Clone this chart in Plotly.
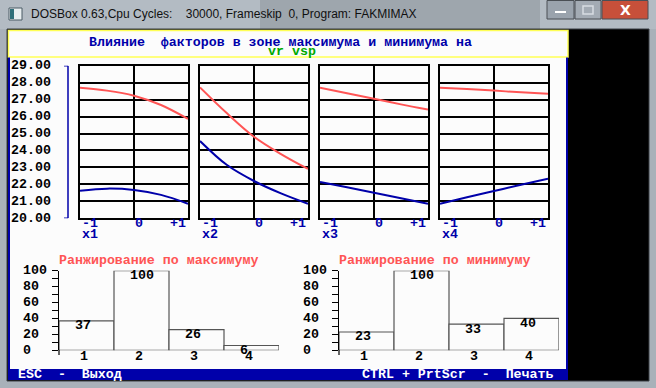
import plotly.graph_objects as go

W, H = 656, 388

# ---------------- data ----------------
factor_names = ["x1", "x2", "x3", "x4"]
x_levels = [-1, -0.5, 0, 0.5, 1]
x_tick_vals = [-1, 0, 1]
x_tick_text = ["-1", "0", "+1"]

max_x1 = [27.70, 27.53, 27.23, 26.68, 25.86]
min_x1 = [21.63, 21.75, 21.67, 21.38, 20.86]
max_x2 = [27.72, 26.19, 24.81, 23.79, 22.91]
min_x2 = [24.56, 23.14, 22.20, 21.47, 20.86]
max_x3 = [27.70, 27.37, 27.05, 26.72, 26.41]
min_x3 = [22.14, 21.83, 21.51, 21.18, 20.86]
max_x4 = [27.70, 27.62, 27.53, 27.43, 27.35]
min_x4 = [20.86, 21.24, 21.61, 21.98, 22.34]

y_tick_vals = [20, 21, 22, 23, 24, 25, 26, 27, 28, 29]
y_tick_text = ["20.00", "21.00", "22.00", "23.00", "24.00",
               "25.00", "26.00", "27.00", "28.00", "29.00"]

rank_cats = [1, 2, 3, 4]
rank_max = [37, 100, 26, 6]
rank_min = [23, 100, 33, 40]
rank_tick_vals = [0, 20, 40, 60, 80, 100]
rank_tick_text = ["0", "20", "40", "60", "80", "100"]

title_line1 = "Влияние\u00a0\u00a0факторов в зоне максимума и минимума на"
title_line2 = "vr vsp"
rank_title_max = "Ранжирование по максимуму"
rank_title_min = "Ранжирование по минимуму"
status_left = "ESC\u00a0\u00a0-\u00a0\u00a0Выход"
status_right = "CTRL + PrtScr\u00a0\u00a0-\u00a0\u00a0Печать"
window_title = "DOSBox 0.63,Cpu Cycles:\u00a0\u00a0\u00a0\u00a030000, Frameskip\u00a0\u00a00, Program: FAKMIMAX"

# ---------------- style ----------------
DOS_BLUE = "#0000aa"
DOS_RED = "#ff5555"
DOS_GREEN = "#00aa00"
DOS_YELLOW = "#ffff55"
MONO = "Liberation Mono, DejaVu Sans Mono, monospace"
FS = 13.3


def px(x):
    return x / W


def py(y):
    return 1 - y / H


fig = go.Figure()

series_max = [max_x1, max_x2, max_x3, max_x4]
series_min = [min_x1, min_x2, min_x3, min_x4]

layout_axes = {}
annotations = []
shapes = []


def ann(text, x, y, xref="paper", yref="paper", color="black", size=FS,
        xanchor="left", yanchor="middle", xshift=0, yshift=0, family=MONO, weight="bold"):
    annotations.append(dict(text=text, x=x, y=y, xref=xref, yref=yref,
                            xanchor=xanchor, yanchor=yanchor, xshift=xshift, yshift=yshift,
                            showarrow=False,
                            font=dict(family=family, size=size, color=color, weight=weight)))


# ---------------- window chrome ----------------
shapes.append(dict(type="rect", xref="paper", yref="paper", x0=0, x1=1, y0=py(29), y1=1,
                   fillcolor="#b3bbc3", line=dict(width=0), layer="below"))
shapes.append(dict(type="rect", xref="paper", yref="paper", x0=px(260), x1=px(540), y0=py(29), y1=1,
                   fillcolor="#8f979f", line=dict(width=0), layer="below", opacity=0.6))
shapes.append(dict(type="rect", xref="paper", yref="paper", x0=px(7), x1=px(649), y0=py(381), y1=py(29),
                   fillcolor="#000000", line=dict(color="#3a3f44", width=1), layer="below"))
shapes.append(dict(type="rect", xref="paper", yref="paper", x0=px(8), x1=px(568), y0=py(369), y1=py(30),
                   fillcolor="#fcfcfc", line=dict(width=0), layer="below"))
shapes.append(dict(type="rect", xref="paper", yref="paper", x0=px(8.5), x1=px(568), y0=py(57), y1=py(30.5),
                   fillcolor="rgba(0,0,0,0)", line=dict(color=DOS_YELLOW, width=1.5), layer="below"))
for xb in (9, 567):
    shapes.append(dict(type="line", xref="paper", yref="paper", x0=px(xb), x1=px(xb), y0=py(369), y1=py(57.5),
                       line=dict(color=DOS_BLUE, width=2), layer="below"))
shapes.append(dict(type="rect", xref="paper", yref="paper", x0=px(8), x1=px(568), y0=py(380), y1=py(369),
                   fillcolor=DOS_BLUE, line=dict(width=0), layer="below"))
shapes.append(dict(type="rect", xref="paper", yref="paper", x0=px(547), x1=px(574), y0=py(19), y1=py(0.5),
                   fillcolor="#9aa3ad", line=dict(color="#4a4f55", width=1), layer="below"))
shapes.append(dict(type="rect", xref="paper", yref="paper", x0=px(575), x1=px(601), y0=py(19), y1=py(0.5),
                   fillcolor="#a3abb4", line=dict(color="#4a4f55", width=1), layer="below"))
shapes.append(dict(type="rect", xref="paper", yref="paper", x0=px(602), x1=px(648), y0=py(19), y1=py(0.5),
                   fillcolor="#c7503a", line=dict(color="#4a4f55", width=1), layer="below"))
shapes.append(dict(type="rect", xref="paper", yref="paper", x0=px(555), x1=px(566), y0=py(13), y1=py(11),
                   fillcolor="#ffffff", line=dict(width=0), layer="above"))
shapes.append(dict(type="rect", xref="paper", yref="paper", x0=px(583), x1=px(593), y0=py(14), y1=py(6),
                   fillcolor="rgba(0,0,0,0)", line=dict(color="#d8dde2", width=1.5), layer="above"))
shapes.append(dict(type="rect", xref="paper", yref="paper", x0=px(9), x1=px(22), y0=py(20), y1=py(8),
                   fillcolor="#e8eef0", line=dict(color="#4a5a64", width=1), layer="above"))
shapes.append(dict(type="rect", xref="paper", yref="paper", x0=px(10), x1=px(14), y0=py(19), y1=py(9),
                   fillcolor="#2f6f7a", line=dict(width=0), layer="above"))
ann("X", px(625), py(10), color="#ffffff", size=14, xanchor="center",
    family="DejaVu Sans, sans-serif")
ann(window_title, px(29), py(14.5), color="#101010", size=12, weight="normal",
    family="Liberation Sans, Arial, sans-serif")

# ---------------- header ----------------
ann(title_line1, px(280), py(42), color=DOS_BLUE, xanchor="center")
ann(title_line2, px(292), py(52), color=DOS_GREEN, xanchor="center")

# ---------------- line panels ----------------
for i in range(4):
    k = i + 1
    xa = f"xaxis{k}" if k > 1 else "xaxis"
    ya = f"yaxis{k}" if k > 1 else "yaxis"
    x0 = 80 + 120 * i
    layout_axes[xa] = dict(domain=[px(x0), px(x0 + 108)], range=[-1, 1], anchor=f"y{k}" if k > 1 else "y",
                           tickvals=[0], showticklabels=False, ticks="", showgrid=True,
                           gridcolor="black", gridwidth=1.5, zeroline=False,
                           showline=True, mirror=True, linecolor="black", linewidth=1.5, fixedrange=True)
    layout_axes[ya] = dict(domain=[py(218.3), py(65.7)], range=[20, 29], anchor=f"x{k}" if k > 1 else "x",
                           tickvals=y_tick_vals, showticklabels=False, ticks="", showgrid=True,
                           gridcolor="black", gridwidth=1.5, zeroline=False,
                           showline=True, mirror=True, linecolor="black", linewidth=1.5, fixedrange=True)
    xr = f"x{k}" if k > 1 else "x"
    yr = f"y{k}" if k > 1 else "y"
    fig.add_trace(go.Scatter(x=x_levels, y=series_max[i], mode="lines", xaxis=xr, yaxis=yr,
                             line=dict(color=DOS_RED, width=2, shape="spline"), showlegend=False,
                             hoverinfo="skip"))
    fig.add_trace(go.Scatter(x=x_levels, y=series_min[i], mode="lines", xaxis=xr, yaxis=yr,
                             line=dict(color=DOS_BLUE, width=2, shape="spline"), showlegend=False,
                             hoverinfo="skip"))
    anchors = ["left", "left", "right"]
    shifts = [0, -1, 0]
    for tv, tt, an, sh in zip(x_tick_vals, x_tick_text, anchors, shifts):
        ann(tt, tv, py(223.7), xref=xr, color=DOS_BLUE, xanchor=an, xshift=sh)
    ann(factor_names[i], -1, py(234), xref=xr, color=DOS_BLUE, xanchor="left")

for v, t in zip(y_tick_vals, y_tick_text):
    ann(t, px(9), v, yref="y", color="black", xanchor="left")
shapes.append(dict(type="line", xref="paper", yref="y", x0=px(68), x1=px(68), y0=20, y1=29,
                   line=dict(color=DOS_BLUE, width=1.5)))
for v in (20, 29):
    shapes.append(dict(type="line", xref="paper", yref="y", x0=px(64), x1=px(68), y0=v, y1=v,
                       line=dict(color=DOS_BLUE, width=1.5)))

# ---------------- rank bar charts ----------------
bar_sets = [(rank_max, 59, rank_title_max, 57, 21), (rank_min, 339, rank_title_min, 337, 301)]
for j, (vals, bx, ttl, tx, lx) in enumerate(bar_sets):
    xk = 5 + j
    yk = 6 + j
    layout_axes[f"xaxis{xk}"] = dict(domain=[px(bx), px(bx + 220)], range=[0.5, 4.5], anchor=f"y{yk}",
                                     showticklabels=False, ticks="", showgrid=False, zeroline=False,
                                     showline=False, fixedrange=True)
    layout_axes[f"yaxis{yk}"] = dict(domain=[py(350.3), py(270.7)], range=[0, 100], anchor=f"x{xk}",
                                     showticklabels=False, ticks="outside", dtick=10, ticklen=6,
                                     tickwidth=1, tickcolor="black", showgrid=False, zeroline=False,
                                     showline=True, linecolor="black", linewidth=1.2, fixedrange=True)
    fig.add_trace(go.Bar(x=rank_cats, y=vals, width=1, xaxis=f"x{xk}", yaxis=f"y{yk}",
                         marker=dict(color="#fcfcfc", line=dict(color="#555555", width=1.2)),
                         showlegend=False, hoverinfo="skip"))
    for c, v in zip(rank_cats, vals):
        ann(str(v), c - 0.5, v, xref=f"x{xk}", yref=f"y{yk}", xanchor="left", xshift=14, yshift=-5)
        ann(str(c), c - 0.5, py(356), xref=f"x{xk}", xanchor="left", xshift=19)
    for v, t in zip(rank_tick_vals, rank_tick_text):
        ann(t, px(lx), v, yref=f"y{yk}", xanchor="left")
    ann(ttl, px(tx), py(260), color=DOS_RED, xanchor="left")
    shapes.append(dict(type="line", xref="paper", yref="paper", x0=px(bx), x1=px(bx),
                       y0=py(355), y1=py(350), line=dict(color="black", width=1.2)))

# ---------------- status bar ----------------
ann(status_left, px(16), py(374.5), color="#ffffff", xanchor="left")
ann(status_right, px(360), py(374.5), color="#ffffff", xanchor="left")

fig.update_layout(width=W, height=H, margin=dict(l=0, r=0, t=0, b=0),
                  paper_bgcolor="#a9b1b9", plot_bgcolor="rgba(0,0,0,0)",
                  annotations=annotations, shapes=shapes, showlegend=False, **layout_axes)

fig.write_html("out.html", config={"displayModeBar": False},
               post_script="document.body.style.margin='0';document.body.style.overflow='hidden';")
